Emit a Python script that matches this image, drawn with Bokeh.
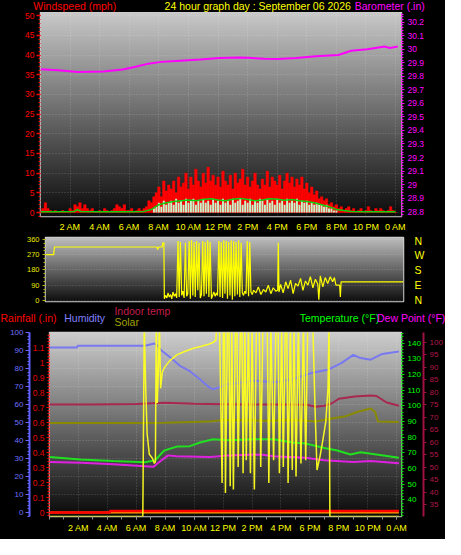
import numpy as np
from bokeh.plotting import figure
from bokeh.layouts import column
from bokeh.models import (Range1d, LinearAxis, FixedTicker, SingleIntervalTicker,
                          CustomJSTickFormatter, Grid)
from bokeh.core.properties import value
from bokeh.embed import file_html
from bokeh.resources import INLINE

# ---------------------------------------------------------------- data
HOUR_TICKS = [2, 4, 6, 8, 10, 12, 14, 16, 18, 20, 22, 24]
HOUR_LABELS = ["2 AM", "4 AM", "6 AM", "8 AM", "10 AM", "12 PM",
               "2 PM", "4 PM", "6 PM", "8 PM", "10 PM", "0 AM"]
DIR_TICKS = [0, 90, 180, 270, 360]
COMPASS = ["N", "E", "S", "W", "N"]
TEMP_TICKS = [40, 50, 60, 70, 80, 90, 100, 110, 120, 130, 140]
INDOOR_TICKS = [35, 40, 45, 50, 55, 60, 65, 70, 75, 80, 85, 90, 95, 100]

TITLE = "24 hour graph day : September 06 2026"

# wind speed, one sample every 10 minutes from 0:00 to 24:00 (mph)
WIND_STEP_H = 1 / 6
WIND_GUST = [
    0.5, 1, 2.5, 1, 0.5, 0,
    0.5, 0, 0, 0.5, 0, 0,
    1, 0.5, 2, 1.5, 2.5, 1,
    2, 1, 0.5, 1, 0, 0,
    0.5, 0, 1, 0.5, 0, 0.5,
    1, 2, 1.5, 1, 2, 0.5,
    0.5, 1, 0, 0.5, 1, 0.5,
    1, 1.5, 3, 2.5, 4, 5,
    6.5, 4, 8, 5.5, 7, 6,
    8, 5, 9, 6.5, 7.5, 10,
    6, 9, 7, 11, 8, 6.5,
    10, 7.5, 11.5, 8, 9.5, 7,
    9, 6.5, 10.5, 8, 7, 9.5,
    6, 10, 7.5, 8.5, 11, 7,
    9, 6.5, 8, 10, 7, 6,
    8.5, 7, 10.5, 6.5, 9, 8,
    7, 9.5, 6, 8, 10, 7.5,
    9, 6.5, 8.5, 7, 9, 6,
    7.5, 5, 6.5, 4.5, 5.5, 3.5,
    4, 3, 3.5, 2, 2.5, 1.5,
    2, 1, 1.5, 0.5, 1, 1.5,
    0.5, 1, 0, 0.5, 1, 0,
    0.5, 1.5, 0.5, 0, 1, 0.5,
    1, 0.5, 0, 0.5, 1.5, 0.5, 0]
WIND_AVG = [
    0, 0, 0, 0, 0, 0,
    0, 0, 0, 0, 0, 0,
    0, 0, 0, 0, 0, 0,
    0, 0, 0, 0, 0, 0,
    0, 0, 0, 0, 0, 0,
    0, 0, 0, 0, 0, 0,
    0, 0, 0, 0, 0, 0,
    0, 0, 0, 0, 1, 1.5,
    2.5, 1.5, 3, 2, 2.5, 3,
    2, 3.5, 2.5, 3, 2, 3.5,
    2.5, 3, 3.5, 2, 3, 2.5,
    3.5, 2.5, 3, 2, 3.5, 2.5,
    3, 2, 3.5, 2.5, 3, 2,
    3.5, 2.5, 3, 3.5, 2, 3,
    2.5, 3.5, 2, 3, 2.5, 3.5,
    3, 2, 3.5, 2.5, 3, 2,
    3.5, 2.5, 3, 2, 3.5, 2.5,
    3, 2.5, 3.5, 2, 3, 2.5,
    3, 2, 2.5, 2, 2.5, 2,
    2, 1.5, 2, 1, 1, 0.5,
    0.5, 0, 0, 0, 0, 0,
    0, 0, 0, 0, 0, 0,
    0, 0, 0, 0, 0, 0,
    0, 0, 0, 0, 0, 0, 0]
WIND_TREND_H = [0, 1, 2.3, 2.5, 2.7, 4, 6, 7, 7.5,
                8, 8.5, 9, 9.5, 10, 10.5, 11, 11.5, 12, 12.5, 13, 13.5, 14,
                14.5, 15, 15.5, 16, 16.5, 17, 17.5, 18, 18.5, 19, 19.5, 20, 20.5,
                21, 22, 23, 24]
WIND_TREND = [0.2, 0.2, 0.3, 0.8, 0.3, 0.2, 0.2, 0.3, 0.8,
              2.0, 2.5, 2.8, 3.0, 3.2, 3.0, 3.3, 3.5, 3.2, 3.0, 3.4, 3.6, 3.3,
              3.0, 3.2, 3.5, 3.4, 3.1, 3.3, 3.0, 2.8, 2.5, 2.0, 1.5, 0.8, 0.5,
              0.3, 0.2, 0.2, 0.2]

# barometer (in)
BARO_H = [0.0, 1.2, 2.5, 4.26, 5.56, 6.43, 7.3, 8.17, 9.48, 10.78, 12.09, 13.39,
          14.04, 15.13, 16.0, 17.3, 18.6, 20.13, 21.0, 22.09, 23.28, 23.6, 24.15]
BARO = [29.852, 29.845, 29.833, 29.835, 29.85, 29.871, 29.894, 29.907, 29.916,
        29.925, 29.935, 29.939, 29.937, 29.93, 29.928, 29.935, 29.949, 29.958,
        29.989, 30.001, 30.02, 30.01, 30.02]

# wind direction (degrees)
DIR_H = [0.0, 0.55, 0.6, 7.5, 7.55, 7.62, 7.85, 7.9, 7.97,
         8.00, 8.08, 8.17, 8.25, 8.33, 8.42, 8.50, 8.58, 8.67, 8.75, 8.83, 8.92,
         9.00, 9.08, 9.17, 9.25, 9.33, 9.42, 9.50, 9.58, 9.67, 9.75, 9.83, 9.92,
         10.00, 10.08, 10.17, 10.25, 10.33, 10.42, 10.50, 10.58, 10.67, 10.75, 10.83, 10.92,
         11.00, 11.08, 11.17, 11.25, 11.33, 11.42, 11.50, 11.58, 11.67, 11.75, 11.83, 11.92,
         12.00, 12.08, 12.17, 12.25, 12.33, 12.42, 12.50, 12.58, 12.67, 12.75, 12.83, 12.92,
         13.00, 13.08, 13.17, 13.25, 13.33, 13.42, 13.50, 13.58, 13.67, 13.75, 13.83, 13.92,
         14.00, 14.17, 14.33, 14.50, 14.67, 14.83, 15.00, 15.17, 15.33, 15.50,
         15.63, 15.67, 15.72, 15.83, 16.00, 16.17, 16.33, 16.50, 16.67, 16.83,
         17.00, 17.17, 17.33, 17.50, 17.67, 17.83, 18.00, 18.17, 18.33, 18.40,
         18.50, 18.67, 18.83, 19.00, 19.17, 19.33, 19.45, 19.55, 19.80, 19.85,
         19.90, 24.1]
DIR = [270, 270, 315, 315, 300, 315, 315, 340, 340,
       10, 30, 15, 45, 20, 35, 10, 50, 25, 40, 15, 350,
       20, 345, 30, 55, 15, 340, 25, 40, 350, 10, 355, 30,
       345, 20, 350, 60, 340, 15, 35, 350, 25, 345, 40, 355,
       20, 345, 10, 30, 50, 25, 45, 30, 350, 20, 345, 15,
       355, 40, 350, 10, 345, 30, 355, 5, 350, 25, 345, 35,
       355, 20, 340, 45, 30, 55, 40, 350, 25, 345, 50, 35,
       60, 45, 80, 35, 65, 50, 90, 40, 75, 55,
       60, 340, 50, 95, 45, 110, 70, 120, 40, 100,
       85, 130, 60, 115, 90, 140, 75, 125, 95, 5,
       145, 80, 135, 100, 140, 110, 135, 90, 90, 20,
       110, 110]

# bottom panel series
HUM_H = [0, 1.9, 1.95, 6.6, 7.26, 7.5, 7.7, 8.4, 9.05, 9.7, 10.4, 11.04, 11.3, 11.7,
         12.4, 13.3, 14.2, 15.5, 16.8, 18.2, 19.3, 20.2, 21.0, 21.5, 22.2, 23.0, 24.15]
HUM = [91.7, 91.7, 92.6, 92.6, 93.9, 92.5, 90.3, 85.8, 81.3, 78.5, 74, 69.5, 68.5, 69.5,
       71.4, 72.3, 73.2, 72.3, 74, 77.7, 79.5, 83.1, 87.6, 85.8, 84.9, 88.1, 89.4]

INDOOR_H = [0, 3, 6, 8, 10, 13, 16, 17.8, 18.4, 19, 19.5, 20, 21.1, 22.2, 22.6, 23.3, 24.15]
INDOOR = [75.1, 75.1, 75.3, 75.8, 75.4, 75.1, 75.1, 75.0, 74.2, 74.6, 75.5, 77.4,
          78.3, 78.7, 78.5, 75.9, 74.6]

OLIVE_H = [0, 5, 8, 11, 12, 15, 17, 18.4, 19.3, 20.4, 21.3, 22.2, 22.5, 22.7, 24.15]
OLIVE = [49.7, 49.7, 49.9, 50.5, 51.4, 51, 51.4, 50.6, 52, 53.3, 56, 57.8, 56, 50.6, 50.3]

TEMP_H = [0, 2.15, 4.4, 6.6, 7.3, 7.93, 8.8, 9.7, 10.4, 11.3, 12.4, 14.2, 15.5, 16.8,
          17.7, 19.0, 19.9, 20.8, 21.5, 22.6, 24.15]
TEMP = [67.3, 65.7, 64.8, 64.0, 65.3, 71.5, 74, 74.3, 76.6, 78.7, 78, 78.7, 78.7, 76.6,
        76, 73.1, 71.5, 69, 70.4, 69, 66.9]

DEW_H = [0, 2.2, 4.4, 6.6, 7.2, 7.5, 8.2, 8.8, 11.1, 12.4, 14.6, 15.5, 17.7, 19.0,
         21.0, 22.2, 24.15]
DEW = [64.2, 63.7, 62.8, 61.5, 61.1, 63.5, 68.4, 67.8, 67.3, 68.4, 69, 67.8, 66.9, 65.3,
       64.2, 64.8, 63.4]

RAIN_H = [0, 4.16, 4.17, 24.15]
RAIN = [0, 0, 0.01, 0.01]
RAIN_RATE_H = [0, 24.15]
RAIN_RATE = [0, 0]

SOLAR_H = [0, 6.45, 6.55, 6.65, 6.75, 6.9, 7.1, 7.25, 7.32, 7.38, 7.45, 7.52, 7.6,
           7.68, 7.8, 7.93, 8.3, 8.8, 9.3, 9.9, 10.5, 11.0, 11.3, 11.5,
           11.56, 11.75, 11.93, 12.02, 12.1, 12.16, 12.3, 12.4, 12.49, 12.6, 12.71,
           12.85, 12.95, 13.04, 13.2, 13.3, 13.38, 13.5, 13.6, 13.75, 13.89, 14.0,
           14.16, 14.3, 14.5, 14.6, 14.75, 15.05, 15.16, 15.3, 15.49, 15.65, 15.8,
           15.89, 16.05, 16.16, 16.3, 16.4, 16.49, 16.65, 16.78, 16.9, 17.04, 17.2,
           17.38, 17.55, 17.71, 17.85, 18.2, 18.35, 18.49, 18.7, 18.9, 19.1, 19.25,
           19.32, 19.38, 24.15]
SOLAR = [0, 0, 1050, 700, 450, 340, 320, 290, 300, 1050, 620, 780, 1050,
         700, 790, 812, 850, 883, 900, 918, 930, 941, 950, 963,
         1050, 1050, 183, 1050, 1050, 129, 1050, 1050, 165, 1050, 147,
         1050, 1050, 271, 1050, 1050, 236, 1050, 307, 1050, 236, 1050,
         147, 1050, 1050, 271, 1050, 1050, 183, 1050, 307, 1050, 1050,
         236, 1050, 271, 1050, 1050, 183, 1050, 254, 1050, 218, 1050,
         289, 1050, 307, 1050, 1050, 600, 254, 330, 420, 520, 700,
         1050, 0, 0]

# ---------------------------------------------------------------- layout
FONT = "Liberation Sans"
SX = 445 / 461
BASELINE_FIX = 4.0   # Bokeh draws 'alphabetic' text this much below the anchor
WIND_HOURS = [i * WIND_STEP_H for i in range(len(WIND_GUST))]


def make_fig(xr, yr, height, fl, ft, fw, fh, **kw):
    p = figure(width=445, height=height, x_range=xr, y_range=yr,
               output_backend="svg", toolbar_location=None, frame_align=False,
               min_border_left=fl, min_border_top=ft,
               min_border_right=445 - fl - fw, min_border_bottom=height - ft - fh,
               background_fill_color="black", border_fill_color="black",
               outline_line_color="#d0d0d0", outline_line_width=1.5, **kw)
    return p


def header(height, texts):
    """A strip of coloured caption texts; x in reference pixels,
    y = wanted baseline inside the strip (page pixels)."""
    h = figure(width=445, height=height, x_range=Range1d(0, 445),
               y_range=Range1d(height, 0), output_backend="svg",
               toolbar_location=None, frame_align=False, min_border=0,
               min_border_left=0, min_border_right=0, min_border_top=0,
               min_border_bottom=0,
               x_axis_location=None, y_axis_location=None,
               background_fill_color="black", border_fill_color="black",
               outline_line_color=None)
    for g in h.grid:
        g.visible = False
    for rx, base, text, color in texts:
        h.text(x=[rx * SX], y=[base - BASELINE_FIX], text=[text],
               text_color=color, text_font=value(FONT), text_font_size="10.5px",
               text_baseline="alphabetic", text_align="left")
    return h


def gradient(p, top, bottom):
    n = 128
    vals = np.linspace(bottom, top, n).astype(np.uint8)
    img = np.zeros((n, 2), dtype=np.uint32)
    view = img.view(dtype=np.uint8).reshape((n, 2, 4))
    for c in range(3):
        view[:, :, c] = vals[:, None]
    view[:, :, 3] = 255
    xr, yr = p.x_range, p.y_range
    r = p.image_rgba(image=[img], x=xr.start, y=yr.start,
                     dw=xr.end - xr.start, dh=yr.end - yr.start)
    r.level = "image"


def style_axis(ax, color, label_color=None, size="8.5px", tick_out=3, minor_out=2,
               standoff=2, line=None, dash=None, width=1):
    ax.axis_line_color = line
    ax.axis_line_width = width
    if dash:
        ax.axis_line_dash = dash
    ax.major_tick_line_color = color
    ax.minor_tick_line_color = color
    ax.major_tick_in = 0
    ax.minor_tick_in = 0
    ax.major_tick_out = tick_out
    ax.minor_tick_out = minor_out
    ax.major_label_text_color = label_color or color
    ax.major_label_text_font = FONT
    ax.major_label_text_font_size = size
    ax.major_label_standoff = standoff


def style_grid(g):
    g.grid_line_color = "#ffffff"
    g.grid_line_alpha = 0.22
    g.grid_line_dash = "1 2"


one_decimal = CustomJSTickFormatter(code="return (Math.round(tick*10)/10).toString();")
hour_over = {h: lab for h, lab in zip(HOUR_TICKS, HOUR_LABELS)}

# ------------------------------------------------ header of top panel (page 0..12)
h1 = header(12, [(34, 9.5, "Windspeed (mph)", "#ff0000"),
                 (170, 9.5, TITLE, "#ffff00"),
                 (367, 9.5, "Barometer (.in)", "#ff00ff")])

# ------------------------------------------------ top panel: wind + barometer (page 12..234)
p1 = make_fig(Range1d(0, 24.4), Range1d(-1, 50.8), 222, 40, 0, 361, 206)
gradient(p1, 200, 12)
p1.extra_y_ranges = {"baro": Range1d(28.764, 30.272)}

p1.vbar(x=WIND_HOURS, top=WIND_GUST, bottom=0, width=WIND_STEP_H,
        fill_color="#ff0000", line_color="#ff0000", line_width=0.5)
p1.vbar(x=WIND_HOURS, top=WIND_AVG, bottom=0, width=WIND_STEP_H * 0.8,
        fill_color="#c8f2c8", line_color=None)
p1.line(WIND_TREND_H, WIND_TREND, line_color="#10d010", line_width=1.5)
p1.line(BARO_H, BARO, y_range_name="baro", line_color="#ff00ff", line_width=2)

p1.yaxis.ticker = SingleIntervalTicker(interval=5, num_minor_ticks=5)
style_axis(p1.yaxis[0], "#ff0000", size="8.5px", tick_out=4, minor_out=2, standoff=2)
p1.yaxis.major_tick_line_width = 1.5
baro_ax = LinearAxis(y_range_name="baro",
                     ticker=SingleIntervalTicker(interval=0.1, num_minor_ticks=5),
                     formatter=one_decimal)
style_axis(baro_ax, "#ff00ff", size="8.5px", tick_out=3, minor_out=2, standoff=3,
           line="#ff00ff", dash="1 1")
p1.add_layout(baro_ax, "right")

p1.xaxis.ticker = FixedTicker(ticks=HOUR_TICKS)
p1.xaxis.major_label_overrides = hour_over
style_axis(p1.xaxis[0], None, label_color="#ffff00", size="9px", tick_out=0,
           minor_out=0, standoff=5)
style_grid(p1.xgrid[0])
style_grid(p1.ygrid[0])

# ------------------------------------------------ middle panel: wind direction (page 234..305)
p2 = make_fig(Range1d(0, 24.1), Range1d(-6, 371), 71, 45, 3, 358, 64,
              x_axis_location=None)
gradient(p2, 190, 15)
p2.line(DIR_H, DIR, line_color="#ffff00", line_width=1.2)
p2.yaxis.ticker = FixedTicker(ticks=DIR_TICKS, minor_ticks=[22.5 * k for k in range(17)])
style_axis(p2.yaxis[0], "#b8b800", label_color="#e8e800", size="7.5px",
           tick_out=3, minor_out=2, standoff=3)
dir_ax = LinearAxis(ticker=FixedTicker(ticks=DIR_TICKS),
                    major_label_overrides={d: c for d, c in zip(DIR_TICKS, COMPASS)})
style_axis(dir_ax, None, label_color="#ffff00", size="10.5px", tick_out=0,
           minor_out=0, standoff=11)
p2.add_layout(dir_ax, "right")
p2.xgrid.visible = False
style_grid(p2.ygrid[0])

# ------------------------------------------------ legend strip of bottom panel (page 305..328)
h3 = header(23, [(0, 16.0, "Rainfall (.in)", "#ff0000"),
                 (66, 16.0, "Humidity", "#8080ff"),
                 (118, 9.6, "Indoor temp", "#c41e4a"),
                 (118, 20.8, "Solar", "#a0a000"),
                 (310, 16.0, "Temperature (°F)", "#00ff00"),
                 (390, 16.0, "Dew Point (°F)", "#ff00ff")])

# ------------------------------------------------ bottom panel (page 328..539)
p3 = make_fig(Range1d(0, 24.33), Range1d(-2.2, 100), 211, 49, 4, 352, 184,
              y_axis_location=None)
gradient(p3, 205, 10)
p3.extra_y_ranges = {"rain": Range1d(-0.026, 1.2), "temp": Range1d(29.4, 146.8),
                     "indoor": Range1d(30.3, 103.9), "solar": Range1d(0, 1005)}

p3.line(INDOOR_H, INDOOR, y_range_name="indoor", line_color="#a82850", line_width=2)
p3.line(OLIVE_H, OLIVE, line_color="#8a8a00", line_width=2)
p3.line(HUM_H, HUM, line_color="#7878f0", line_width=2)
p3.line(DEW_H, DEW, y_range_name="temp", line_color="#e020e0", line_width=2)
p3.line(TEMP_H, TEMP, y_range_name="temp", line_color="#20e020", line_width=2)
p3.line(RAIN_RATE_H, RAIN_RATE, y_range_name="rain", line_color="#ff9900", line_width=2)
p3.line(RAIN_H, RAIN, y_range_name="rain", line_color="#ff0000", line_width=2.5)
p3.line(SOLAR_H, SOLAR, y_range_name="solar", line_color="#ffff20", line_width=1.5,
        line_alpha=0.95)

rain_ax = LinearAxis(y_range_name="rain",
                     ticker=SingleIntervalTicker(interval=0.1, num_minor_ticks=5),
                     formatter=one_decimal)
style_axis(rain_ax, "#ff0000", label_color="#e00000", size="8.5px", tick_out=3,
           minor_out=2, standoff=2, line="#ff3030", dash="1 1")
p3.add_layout(rain_ax, "left")
hum_ax = LinearAxis(ticker=SingleIntervalTicker(interval=10, num_minor_ticks=5))
style_axis(hum_ax, "#6666ff", label_color="#7070ff", size="8px", tick_out=4,
           minor_out=2, standoff=2, line="#6060ff", width=2)
p3.add_layout(hum_ax, "left")

temp_ax = LinearAxis(y_range_name="temp",
                     ticker=FixedTicker(ticks=TEMP_TICKS,
                                        minor_ticks=list(range(30, 148, 2))))
style_axis(temp_ax, "#00e000", label_color="#00ff00", size="8px", tick_out=3,
           minor_out=2, standoff=3, line="#00e000", dash="1 1")
p3.add_layout(temp_ax, "right")
ind_ax = LinearAxis(y_range_name="indoor",
                    ticker=FixedTicker(ticks=INDOOR_TICKS,
                                       minor_ticks=list(range(31, 104, 1))))
style_axis(ind_ax, "#a01040", label_color="#b01848", size="8px", tick_out=3,
           minor_out=0, standoff=3, line="#a01040", width=2)
p3.add_layout(ind_ax, "right")

p3.xaxis.ticker = FixedTicker(ticks=HOUR_TICKS, minor_ticks=list(range(0, 25)))
p3.xaxis.major_label_overrides = hour_over
style_axis(p3.xaxis[0], "#909090", label_color="#ffff00", size="9px", tick_out=3,
           minor_out=3, standoff=3)
style_grid(p3.xgrid[0])
for g in p3.ygrid:
    g.visible = False
hgrid = Grid(dimension=1, ticker=SingleIntervalTicker(interval=10))
style_grid(hgrid)
p3.add_layout(hgrid, "center")

layout = column(h1, p1, p2, h3, p3, spacing=0, styles={"background-color": "black"})
open("out.html", "w").write(file_html(layout, INLINE))
